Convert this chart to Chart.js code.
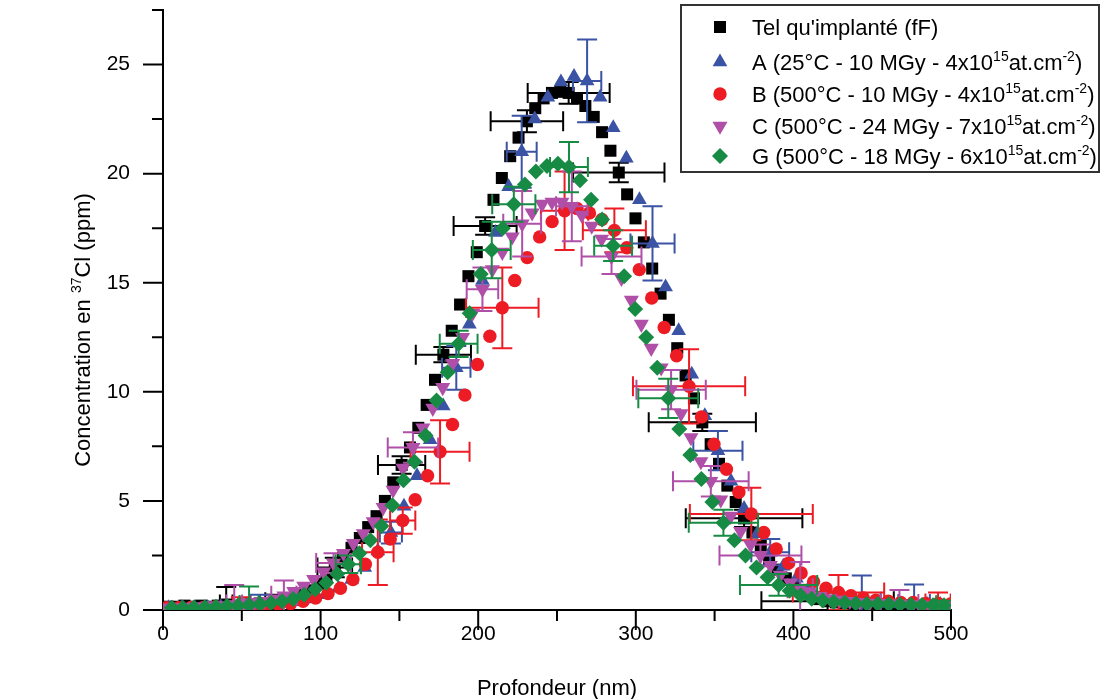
<!DOCTYPE html>
<html>
<head>
<meta charset="utf-8">
<script src="https://cdn.jsdelivr.net/npm/chart.js@4.4.0/dist/chart.umd.min.js"></script>
<style>
  html, body { margin: 0; padding: 0; background: #fff; }
</style>
</head>
<body>
<canvas id="chart" width="1102" height="699"></canvas>
<script>
// depth (nm) and 37Cl concentration (ppm) for each sample
const fFDepth = [3.0, 8.3, 13.6, 18.9, 24.2, 29.5, 34.8, 40.1, 45.4, 50.7, 56.0, 61.3, 66.6, 71.9, 77.2, 82.5, 87.8, 93.1, 98.4, 103.7, 109.0, 114.3, 119.6, 124.9, 130.2, 135.5, 140.8, 146.1, 151.4, 156.7, 162.0, 167.3, 172.6, 177.9, 183.2, 188.5, 193.8, 199.1, 204.4, 209.7, 215.0, 220.3, 225.6, 230.9, 236.2, 241.5, 246.8, 252.1, 257.4, 262.7, 268.0, 273.3, 278.6, 283.9, 289.2, 294.5, 299.8, 305.1, 310.4, 315.7, 321.0, 326.3, 331.6, 336.9, 342.2, 347.5, 352.8, 358.1, 363.4, 368.7, 374.0, 379.3, 384.6, 389.9, 395.2, 400.5, 405.8, 411.1, 416.4, 421.7, 427.0, 432.3, 437.6, 442.9, 448.2, 453.5, 458.8, 464.1, 469.4, 474.7, 480.0, 485.3, 490.6, 495.9];
const fFConc = [0.15, 0.15, 0.2, 0.15, 0.2, 0.15, 0.2, 0.25, 0.2, 0.25, 0.25, 0.3, 0.3, 0.35, 0.45, 0.55, 0.7, 0.9, 1.2, 1.55, 1.95, 2.4, 2.85, 3.3, 3.8, 4.3, 5.0, 5.85, 6.65, 7.45, 8.35, 9.4, 10.55, 11.7, 12.8, 14.0, 15.3, 16.4, 17.6, 18.8, 19.8, 20.8, 21.65, 22.4, 23.0, 23.45, 23.7, 23.75, 23.7, 23.45, 23.1, 22.6, 21.9, 21.05, 20.05, 19.05, 17.95, 16.85, 15.65, 14.5, 13.3, 12.0, 10.75, 9.7, 8.6, 7.6, 6.7, 5.7, 4.95, 4.2, 3.55, 2.95, 2.35, 1.85, 1.45, 1.1, 0.85, 0.65, 0.5, 0.4, 0.35, 0.3, 0.3, 0.25, 0.25, 0.25, 0.2, 0.2, 0.2, 0.2, 0.2, 0.15, 0.2, 0.15];

const aDepth = [3.5, 11.8, 20.1, 28.4, 36.7, 45.0, 53.3, 61.6, 69.9, 78.2, 86.5, 94.8, 103.1, 111.4, 119.7, 128.0, 136.3, 144.6, 152.9, 161.2, 169.5, 177.8, 186.1, 194.4, 202.7, 211.0, 219.3, 227.6, 235.9, 244.2, 252.5, 260.8, 269.1, 277.4, 285.7, 294.0, 302.3, 310.6, 318.9, 327.2, 335.5, 343.8, 352.1, 360.4, 368.7, 377.0, 385.3, 393.6, 401.9, 410.2, 418.5, 426.8, 435.1, 443.4, 451.7, 460.0, 468.3, 476.6, 484.9, 493.2];
const aConc = [0.1, 0.1, 0.1, 0.12, 0.15, 0.15, 0.18, 0.2, 0.25, 0.3, 0.38, 0.5, 0.7, 1.0, 1.4, 1.95, 2.7, 3.55, 4.75, 6.15, 7.8, 9.35, 11.1, 13.1, 15.1, 17.3, 19.4, 21.0, 22.5, 23.5, 24.2, 24.45, 24.25, 23.5, 22.1, 20.7, 18.8, 16.8, 14.8, 12.8, 10.8, 8.9, 7.3, 5.9, 4.65, 3.5, 2.65, 2.0, 1.45, 1.05, 0.75, 0.55, 0.45, 0.38, 0.33, 0.3, 0.28, 0.27, 0.25, 0.25];

const bDepth = [2.0, 9.9, 17.8, 25.7, 33.6, 41.5, 49.4, 57.3, 65.2, 73.1, 81.0, 88.9, 96.8, 104.7, 112.6, 120.5, 128.4, 136.3, 144.2, 152.1, 160.0, 167.9, 175.8, 183.7, 191.6, 199.5, 207.4, 215.3, 223.2, 231.1, 239.0, 246.9, 254.8, 262.7, 270.6, 278.5, 286.4, 294.3, 302.2, 310.1, 318.0, 325.9, 333.8, 341.7, 349.6, 357.5, 365.4, 373.3, 381.2, 389.1, 397.0, 404.9, 412.8, 420.7, 428.6, 436.5, 444.4, 452.3, 460.2, 468.1, 476.0, 483.9, 491.8, 499.7];
const bConc = [0.1, 0.1, 0.12, 0.12, 0.15, 0.15, 0.18, 0.2, 0.2, 0.25, 0.3, 0.4, 0.55, 0.75, 1.0, 1.4, 2.1, 2.65, 3.25, 4.1, 5.05, 6.15, 7.25, 8.5, 9.85, 11.25, 12.55, 13.85, 15.1, 16.15, 17.1, 17.8, 18.3, 18.4, 18.2, 17.9, 17.4, 16.6, 15.6, 14.3, 12.95, 11.65, 10.25, 8.85, 7.6, 6.45, 5.4, 4.4, 3.55, 2.8, 2.15, 1.7, 1.3, 1.0, 0.8, 0.65, 0.55, 0.45, 0.4, 0.35, 0.35, 0.3, 0.3, 0.28];

const cDepth = [1.1, 7.4, 13.7, 20.0, 26.3, 32.6, 38.9, 45.2, 51.5, 57.8, 64.1, 70.4, 76.7, 83.0, 89.3, 95.6, 101.9, 108.2, 114.5, 120.8, 127.1, 133.4, 139.7, 146.0, 152.3, 158.6, 164.9, 171.2, 177.5, 183.8, 190.1, 196.4, 202.7, 209.0, 215.3, 221.6, 227.9, 234.2, 240.5, 246.8, 253.1, 259.4, 265.7, 272.0, 278.3, 284.6, 290.9, 297.2, 303.5, 309.8, 316.1, 322.4, 328.7, 335.0, 341.3, 347.6, 353.9, 360.2, 366.5, 372.8, 379.1, 385.4, 391.7, 398.0, 404.3, 410.6, 416.9, 423.2, 429.5, 435.8, 442.1, 448.4, 454.7, 461.0, 467.3, 473.6, 479.9, 486.2, 492.5, 498.8];
const cConc = [0.1, 0.1, 0.12, 0.15, 0.15, 0.2, 0.2, 0.25, 0.3, 0.35, 0.4, 0.5, 0.65, 0.85, 1.1, 1.4, 1.75, 2.15, 2.6, 3.05, 3.5, 4.05, 4.7, 5.5, 6.5, 7.45, 8.35, 9.25, 10.2, 11.3, 12.5, 13.6, 14.7, 15.6, 16.4, 17.1, 17.7, 18.2, 18.6, 18.7, 18.7, 18.5, 18.1, 17.6, 17.0, 16.2, 15.2, 14.2, 13.1, 12.0, 11.1, 10.1, 9.0, 7.9, 6.8, 5.9, 5.05, 4.3, 3.6, 3.0, 2.5, 2.05, 1.6, 1.25, 1.0, 0.8, 0.62, 0.52, 0.45, 0.4, 0.35, 0.32, 0.3, 0.28, 0.27, 0.25, 0.25, 0.23, 0.22, 0.2];

const gDepth = [5.6, 12.6, 19.6, 26.6, 33.6, 40.6, 47.6, 54.6, 61.6, 68.6, 75.6, 82.6, 89.6, 96.6, 103.6, 110.6, 117.6, 124.6, 131.6, 138.6, 145.6, 152.6, 159.6, 166.6, 173.6, 180.6, 187.6, 194.6, 201.6, 208.6, 215.6, 222.6, 229.6, 236.6, 243.6, 250.6, 257.6, 264.6, 271.6, 278.6, 285.6, 292.6, 299.6, 306.6, 313.6, 320.6, 327.6, 334.6, 341.6, 348.6, 355.6, 362.6, 369.6, 376.6, 383.6, 390.6, 397.6, 404.6, 411.6, 418.6, 425.6, 432.6, 439.6, 446.6, 453.6, 460.6, 467.6, 474.6, 481.6, 488.6, 495.6];
const gConc = [0.1, 0.1, 0.12, 0.13, 0.15, 0.18, 0.2, 0.23, 0.27, 0.32, 0.4, 0.5, 0.7, 0.95, 1.25, 1.65, 2.1, 2.6, 3.2, 3.85, 4.8, 5.95, 6.8, 8.0, 9.6, 10.9, 12.2, 13.6, 15.4, 16.5, 17.5, 18.6, 19.5, 20.1, 20.35, 20.45, 20.3, 19.7, 18.8, 17.9, 16.7, 15.3, 13.8, 12.5, 11.1, 9.7, 8.3, 7.1, 6.0, 4.95, 4.0, 3.2, 2.5, 1.95, 1.5, 1.15, 0.88, 0.67, 0.52, 0.43, 0.37, 0.33, 0.3, 0.28, 0.27, 0.26, 0.25, 0.24, 0.23, 0.22, 0.22];

// error bars: index of the point, +/- depth, +/- concentration
const fFErrIdx = [7, 13, 20, 28, 33, 38, 43, 48, 54, 64, 69, 79];
const fFErrDx = [4, 7, 11, 15, 17.5, 20, 23, 26, 29, 34, 37, 42];
const fFErrDy = [0.8, 0.35, 0.45, 0.4, 0.35, 0.4, 0.5, 0.5, 0.45, 0.4, 0.4, 0.4];

const aErrIdx = [7, 17, 22, 27, 32, 37, 42, 46, 53, 57];
const aErrDx = [6, 7, 9, 9.5, 9, 14, 15.6, 12, 12, 10];
const aErrDy = [0.5, 0.5, 1.0, 1.65, 1.9, 1.7, 0.9, 0.6, 1.2, 0.9];

const bErrIdx = [6, 17, 19, 22, 27, 32, 36, 42, 47, 54, 62];
const bErrDx = [5, 10, 8, 18.7, 23, 15, 20, 35.6, 39, 29, 8];
const bErrDy = [0.4, 1.5, 0.6, 1.45, 1.85, 1.8, 1.0, 1.7, 1.2, 0.8, 0.5];

const cErrIdx = [7, 12, 17, 25, 32, 36, 41, 45, 51, 55, 60, 64, 74];
const cErrDx = [5, 8, 11, 16, 10, 12, 10, 19, 22, 24, 26, 8, 12];
const cErrDy = [0.9, 0.7, 0.45, 0.7, 1.0, 1.5, 1.6, 0.8, 0.9, 0.7, 0.5, 1.2, 0.65];

const gErrIdx = [7, 16, 26, 29, 31, 36, 40, 45, 50, 55, 70];
const gErrDx = [6, 8, 12, 12, 13.7, 12, 12, 19, 22, 24.5, 5];
const gErrDy = [0.85, 0.4, 0.6, 1.3, 0.8, 1.15, 0.7, 0.9, 0.6, 0.5, 0.2];

const xMajorTicks = [0, 100, 200, 300, 400, 500];
const xMinorTicks = [50, 150, 250, 350, 450];
const yMajorTicks = [0, 5, 10, 15, 20, 25];
const yMinorTicks = [2.5, 7.5, 12.5, 17.5, 22.5, 27.5];

// legend text: main label, and the "x10^15 at.cm^-2" part when present
const seriesNames = ["Tel qu'implanté (fF)", 'A (25°C - 10 MGy - 4x10', 'B (500°C - 10 MGy - 4x10', 'C (500°C - 24 MGy - 7x10', 'G (500°C - 18 MGy - 6x10'];
const seriesDose = [null, '15', '15', '15', '15'];

const FONT = '"Liberation Sans", Arial, sans-serif';
const colors = ['#000000', '#3a53a4', '#ed1c24', '#b04fa8', '#178b43'];
const styles = [
  { pointStyle: 'rect', radius: 8.5, rotation: 0 },
  { pointStyle: 'triangle', radius: 8.5, rotation: 0 },
  { pointStyle: 'circle', radius: 6.7, rotation: 0 },
  { pointStyle: 'triangle', radius: 8.7, rotation: 180 },
  { pointStyle: 'rectRot', radius: 8, rotation: 0 }
];

const pts = (xs, ys) => xs.map((x, i) => ({ x: x, y: ys[i] }));

function makeSet(i, xs, ys, idx, dx, dy) {
  return {
    label: seriesNames[i],
    data: pts(xs, ys),
    showLine: false,
    backgroundColor: colors[i],
    borderColor: colors[i],
    borderWidth: 0,
    pointStyle: styles[i].pointStyle,
    pointRadius: styles[i].radius,
    pointRotation: styles[i].rotation,
    pointBorderWidth: 0,
    clip: 0,
    order: 5 - i,
    errorBars: { idx: idx, dx: dx, dy: dy }
  };
}

const errorBars = {
  id: 'errorBars',
  beforeDatasetDraw(chart, args) {
    const ds = chart.data.datasets[args.index];
    const eb = ds.errorBars;
    if (!eb) return;
    const { ctx, chartArea: a } = chart;
    const xs = chart.scales.x, ys = chart.scales.y;
    const cap = 10;
    ctx.save();
    ctx.beginPath();
    ctx.rect(a.left, a.top, a.right - a.left, a.bottom - a.top);
    ctx.clip();
    ctx.strokeStyle = ds.borderColor;
    ctx.lineWidth = 2;
    eb.idx.forEach((k, j) => {
      const p = ds.data[k];
      const px = xs.getPixelForValue(p.x), py = ys.getPixelForValue(p.y);
      const x0 = xs.getPixelForValue(p.x - eb.dx[j]), x1 = xs.getPixelForValue(p.x + eb.dx[j]);
      const y0 = ys.getPixelForValue(p.y - eb.dy[j]), y1 = ys.getPixelForValue(p.y + eb.dy[j]);
      ctx.beginPath();
      ctx.moveTo(x0, py); ctx.lineTo(x1, py);
      ctx.moveTo(x0, py - cap); ctx.lineTo(x0, py + cap);
      ctx.moveTo(x1, py - cap); ctx.lineTo(x1, py + cap);
      ctx.moveTo(px, y0); ctx.lineTo(px, y1);
      ctx.moveTo(px - cap, y0); ctx.lineTo(px + cap, y0);
      ctx.moveTo(px - cap, y1); ctx.lineTo(px + cap, y1);
      ctx.stroke();
    });
    ctx.restore();
  }
};

// text with superscripts: parts = [[text, isSup], ...]
function richWidth(ctx, parts, size, supSize) {
  let w = 0;
  parts.forEach(([t, sup]) => {
    ctx.font = (sup ? supSize : size) + 'px ' + FONT;
    w += ctx.measureText(t).width;
  });
  return w;
}
function drawRich(ctx, parts, x, y, size, supSize, rise) {
  parts.forEach(([t, sup]) => {
    ctx.font = (sup ? supSize : size) + 'px ' + FONT;
    ctx.fillText(t, x, sup ? y - rise : y);
    x += ctx.measureText(t).width;
  });
}

const decorations = {
  id: 'decorations',
  afterDraw(chart) {
    const { ctx, chartArea: a } = chart;
    const xs = chart.scales.x, ys = chart.scales.y;
    ctx.save();

    // tick marks, outside the axes
    ctx.strokeStyle = '#000';
    ctx.lineWidth = 2;
    ctx.beginPath();
    xMajorTicks.forEach(v => { const p = xs.getPixelForValue(v); ctx.moveTo(p, a.bottom); ctx.lineTo(p, a.bottom + 20); });
    xMinorTicks.forEach(v => { const p = xs.getPixelForValue(v); ctx.moveTo(p, a.bottom); ctx.lineTo(p, a.bottom + 11); });
    yMajorTicks.forEach(v => { const p = ys.getPixelForValue(v); ctx.moveTo(a.left, p); ctx.lineTo(a.left - 20, p); });
    yMinorTicks.forEach(v => { const p = ys.getPixelForValue(v); ctx.moveTo(a.left, p); ctx.lineTo(a.left - 11, p); });
    ctx.stroke();

    ctx.fillStyle = '#000';
    ctx.textBaseline = 'alphabetic';

    // x title
    ctx.font = '22px ' + FONT;
    ctx.textAlign = 'center';
    ctx.fillText('Profondeur (nm)', (a.left + a.right) / 2, 695);

    // y title with superscript 37
    ctx.textAlign = 'left';
    const yParts = [['Concentration en ', false], ['37', true], ['Cl (ppm)', false]];
    ctx.translate(90, 330);
    ctx.rotate(-Math.PI / 2);
    const yw = richWidth(ctx, yParts, 22, 14);
    drawRich(ctx, yParts, -yw / 2, 0, 22, 14, 9);
    ctx.setTransform(1, 0, 0, 1, 0, 0);

    // legend box
    ctx.strokeStyle = '#333';
    ctx.lineWidth = 2;
    ctx.strokeRect(681, 5, 418, 167);
    const rowMark = [27, 62, 94, 126, 156];
    const rowBase = [35, 70, 102, 134, 164];
    seriesNames.forEach((name, i) => {
      ctx.fillStyle = colors[i];
      ctx.strokeStyle = colors[i];
      Chart.helpers.drawPoint(ctx, { pointStyle: styles[i].pointStyle, radius: styles[i].radius, rotation: styles[i].rotation, borderWidth: 0 }, 720, rowMark[i]);
      ctx.fillStyle = '#000';
      const parts = seriesDose[i] ? [[name, false], [seriesDose[i], true], ['at.cm', false], ['-2', true], [')', false]] : [[name, false]];
      drawRich(ctx, parts, 752, rowBase[i], 22, 14, 9);
    });
    ctx.restore();
  }
};

Chart.defaults.color = '#000';
Chart.defaults.font.family = FONT;

new Chart(document.getElementById('chart'), {
  type: 'scatter',
  data: {
    datasets: [
      makeSet(0, fFDepth, fFConc, fFErrIdx, fFErrDx, fFErrDy),
      makeSet(1, aDepth, aConc, aErrIdx, aErrDx, aErrDy),
      makeSet(2, bDepth, bConc, bErrIdx, bErrDx, bErrDy),
      makeSet(3, cDepth, cConc, cErrIdx, cErrDx, cErrDy),
      makeSet(4, gDepth, gConc, gErrIdx, gErrDx, gErrDy)
    ]
  },
  options: {
    responsive: false,
    animation: false,
    layout: { padding: { top: 10, right: 151, left: 0, bottom: 0 } },
    plugins: { legend: { display: false }, tooltip: { enabled: false } },
    scales: {
      x: {
        type: 'linear', min: 0, max: 500,
        ticks: { stepSize: 100, font: { size: 21 }, padding: 0 },
        grid: { display: true, drawOnChartArea: false, drawTicks: true, tickLength: 12, color: 'rgba(0,0,0,0)' },
        border: { display: true, color: '#000', width: 2 },
        afterFit(scale) { scale.height = 89; scale.paddingLeft = 0; scale.paddingRight = 0; }
      },
      y: {
        type: 'linear', min: 0, max: 27.5,
        ticks: { stepSize: 5, includeBounds: false, font: { size: 21 }, padding: 13 },
        grid: { display: true, drawOnChartArea: false, drawTicks: true, tickLength: 20, color: 'rgba(0,0,0,0)' },
        border: { display: true, color: '#000', width: 2 },
        afterFit(scale) { scale.width = 163; scale.paddingTop = 0; scale.paddingBottom = 0; }
      }
    }
  },
  plugins: [errorBars, decorations]
});
</script>
</body>
</html>
